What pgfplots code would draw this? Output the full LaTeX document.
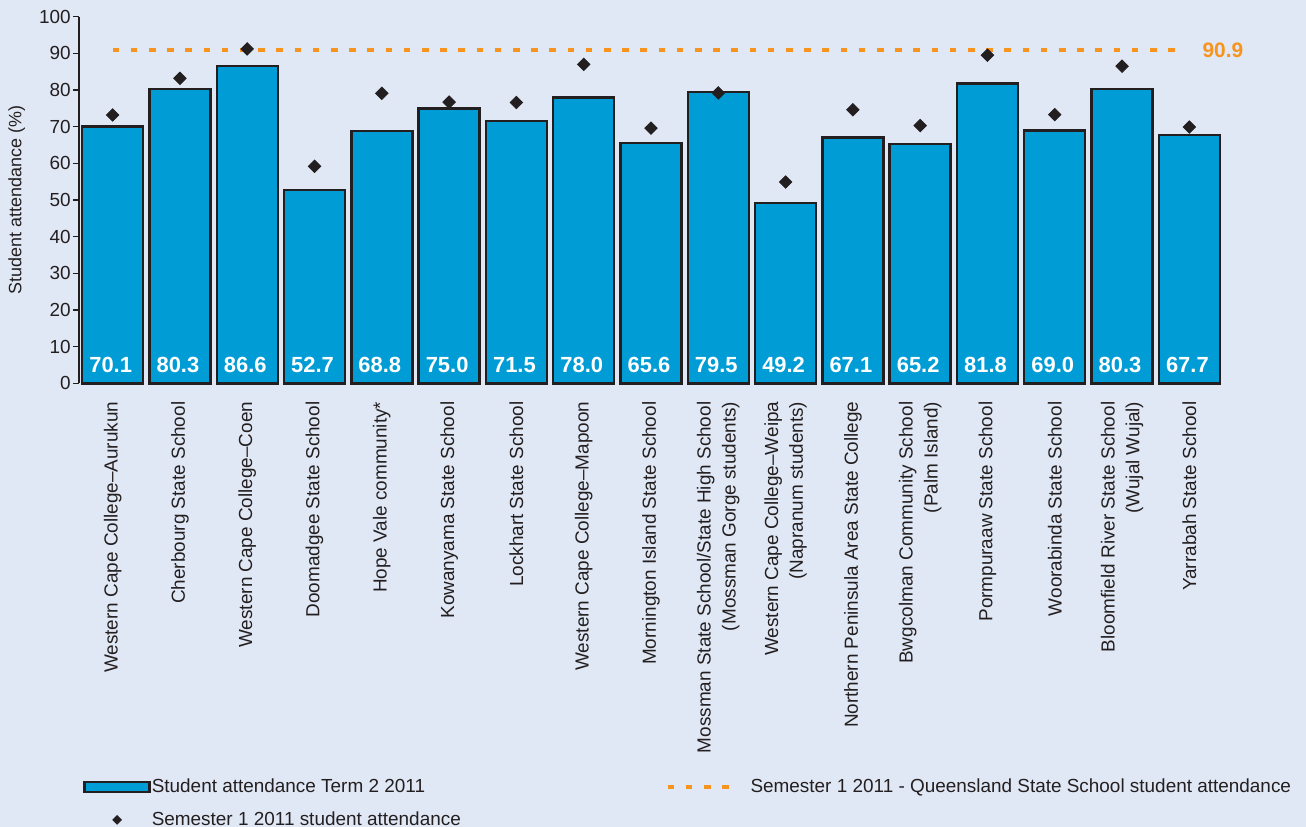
\documentclass[border=0pt]{standalone}
\usepackage{fontspec}
\setmainfont{Liberation Sans}
\usepackage{pgfplots}
\pgfplotsset{compat=1.18}
\usepackage{pgfplotstable}

\definecolor{bg}{RGB}{225,232,245}
\definecolor{barblue}{RGB}{0,156,214}
\definecolor{edge}{RGB}{35,31,32}
\definecolor{qorange}{RGB}{247,148,29}

% term = Term 2 2011, sem = Semester 1 2011
\pgfplotstableread{
x  term  sem
0  70.1  73.2
1  80.3  83.2
2  86.6  91.2
3  52.7  59.2
4  68.8  79.1
5  75.0  76.7
6  71.5  76.6
7  78.0  87.0
8  65.6  69.6
9  79.5  79.2
10 49.2  54.9
11 67.1  74.6
12 65.2  70.3
13 81.8  89.5
14 69.0  73.3
15 80.3  86.5
16 67.7  69.9
}\attend

\begin{document}
\begin{tikzpicture}
\fill[bg] (-39.5bp,-221.85bp) rectangle (613.5bp,191.65bp);
\begin{axis}[
  scale only axis, width=572bp, height=183.3bp,
  at={(0,0)}, anchor=south west,
  xmin=-0.5, xmax=16.5, ymin=0, ymax=100,
  clip=false,
  axis lines*=left,
  x axis line style={draw=none},
  y axis line style={draw=edge, line width=0.6bp},
  tick align=outside, major tick length=3bp,
  xtick={0,...,16}, xtick style={draw=none},
  ytick={0,10,...,100}, ytick style={draw=edge, line width=0.6bp},
  /pgf/number format/assume math mode=true,
  yticklabel style={inner sep=0pt, xshift=-1bp, font=\fontsize{9.5}{11}\selectfont, text=edge},
  xticklabel style={rotate=90, anchor=east, align=right, inner sep=0pt,
    font=\fontsize{9.5}{12.5}\selectfont, text=edge},
  xticklabel shift=6bp,
  xticklabels={Western Cape College–Aurukun, Cherbourg State School,
    Western Cape College–Coen, Doomadgee State School, Hope Vale community*,
    Kowanyama State School, Lockhart State School, Western Cape College–Mapoon,
    Mornington Island State School,
    {Mossman State School/State High School\\(Mossman Gorge students)},
    {Western Cape College–Weipa\\(Napranum students)},
    Northern Peninsula Area State College,
    {Bwgcolman Community School\\(Palm Island)},
    Pormpuraaw State School, Woorabinda State School,
    {Bloomfield River State School\\(Wujal Wujal)}, Yarrabah State School},
  ylabel={Student attendance (\%)},
  every axis y label/.style={at={(axis description cs:-0.0545,0.5)}, rotate=90,
    anchor=center, font=\fontsize{9}{11}\selectfont, text=edge},
  legend columns=2, legend cell align=left,
  legend style={draw=none, fill=none, inner sep=0pt, anchor=north west,
    at={(axis description cs:0.0035,-1.075)},
    font=\fontsize{9.5}{11}\selectfont, text=edge,
    nodes={inner sep=0.5bp}, row sep=7bp,
    /tikz/every even column/.append style={column sep=102bp}},
]
\addplot[ybar, bar width=30.5bp, fill=barblue, draw=edge, line width=1.2bp,
  nodes near coords={\pgfmathprintnumber[fixed,fixed zerofill,precision=1]{\pgfplotspointmeta}},
  visualization depends on={y \as \rawy},
  every node near coord/.append style={anchor=base, shift={(axis direction cs:0,-\rawy)},
    yshift=5.5bp, xshift=-1bp, text=white, font=\fontsize{11}{13}\selectfont\bfseries},
  legend image code/.code={\draw[fill=barblue, draw=edge, line width=1.2bp]
    (0bp,-2.5bp) rectangle (32.5bp,2.5bp);}
] table[x=x, y=term] {\attend};

\addplot[qorange, line width=1.7bp, dash pattern=on 3.3bp off 5.8bp,
  legend image code/.code={\path[draw=none] (0bp,0bp) -- (41bp,0bp);
    \draw[qorange, line width=1.7bp, dash pattern=on 3.3bp off 5.8bp] (0bp,0bp) -- (32bp,0bp);}
] coordinates {(0,90.9) (15.85,90.9)};

\addplot[only marks, mark=square*, mark size=2.2bp,
  mark options={rotate=45, fill=edge, draw=edge, line width=0.4bp},
  legend image code/.code={\path[draw=none] (0bp,0bp) -- (32.5bp,0bp);
    \fill[edge, rotate around={45:(16.25bp,0bp)}]
      (14.75bp,-1.5bp) rectangle (17.75bp,1.5bp);}
] table[x=x, y=sem] {\attend};

\node[anchor=west, text=qorange, font=\fontsize{10.5}{12}\selectfont\bfseries, inner sep=0pt]
  at (axis cs:16.19,90.9) {90.9};

\legend{Student attendance Term 2 2011,
  Semester 1 2011 - Queensland State School student attendance,
  Semester 1 2011 student attendance}
\end{axis}
\pgfresetboundingbox
\path[use as bounding box] (-39.5bp,-221.85bp) rectangle (613.5bp,191.65bp);
\end{tikzpicture}
\end{document}
